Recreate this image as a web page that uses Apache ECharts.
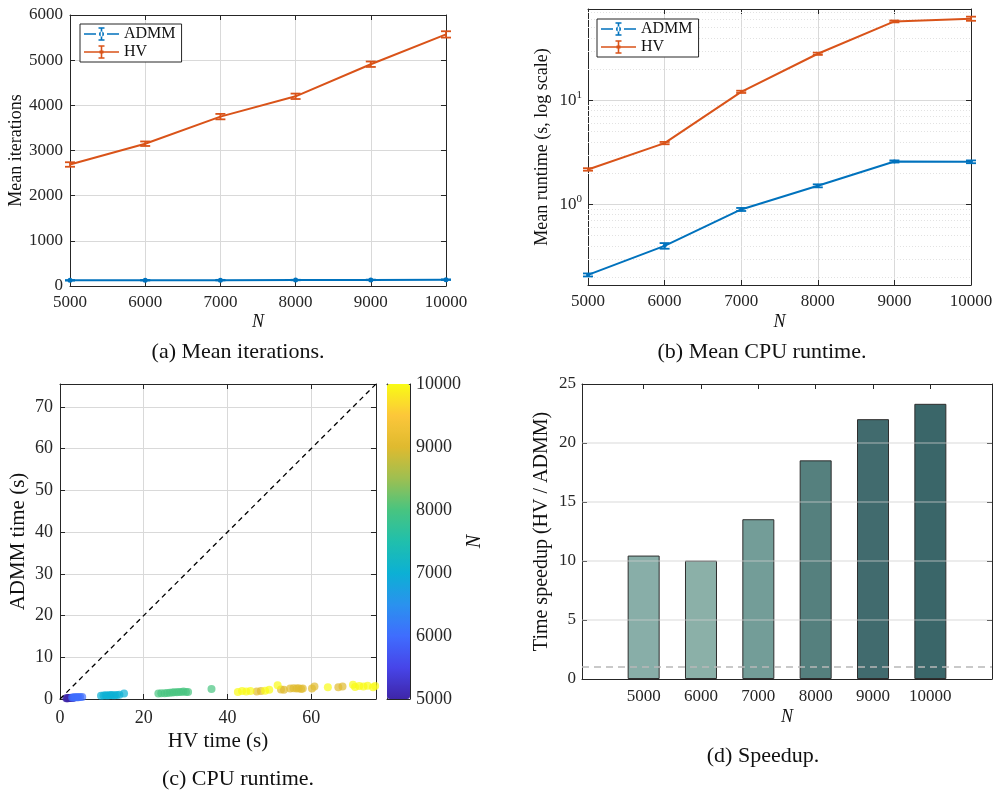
<!DOCTYPE html>
<html><head><meta charset="utf-8">
<script src="https://cdn.jsdelivr.net/npm/echarts@6/dist/echarts.min.js"></script>
<style>html,body{margin:0;padding:0;background:#fff}#c{width:998px;height:798px}</style>
</head><body><div id="c"></div>
<script>
// ---------------- DATA ----------------
const N_VALUES = [5000, 6000, 7000, 8000, 9000, 10000];
const N_LABELS = ['5000', '6000', '7000', '8000', '9000', '10000'];

const ITER_ADMM = [125, 128, 130, 132, 135, 140];
const ITER_ADMM_ERR = [6, 6, 6, 6, 6, 7];
const ITER_HV = [2690, 3150, 3750, 4200, 4910, 5570];
const ITER_HV_ERR = [50, 50, 60, 60, 60, 70];

const TIME_ADMM = [0.21, 0.40, 0.895, 1.51, 2.59, 2.57];
const TIME_ADMM_ERR = [0.007, 0.025, 0.03, 0.05, 0.06, 0.08];
const TIME_HV = [2.17, 3.89, 12.1, 28.1, 57.5, 61.1];
const TIME_HV_ERR = [0.06, 0.1, 0.3, 0.7, 1.2, 2.8];

const SPEEDUP = [10.46, 10.03, 13.54, 18.53, 22.02, 23.32];

const HV_RUNS_5000 = [1.5, 1.7, 1.9, 2.1, 2.3, 2.5, 2.8, 3.1];
const ADMM_RUNS_5000 = [0.17, 0.19, 0.2, 0.21, 0.22, 0.21, 0.23, 0.24];
const HV_RUNS_6000 = [2.9, 3.2, 3.5, 3.8, 4.1, 4.4, 4.8, 5.3];
const ADMM_RUNS_6000 = [0.34, 0.37, 0.39, 0.4, 0.42, 0.41, 0.45, 0.5];
const HV_RUNS_7000 = [9.8, 10.4, 10.9, 11.3, 11.8, 12.2, 12.6, 13.1, 13.6, 14.2, 15.3];
const ADMM_RUNS_7000 = [0.8, 0.85, 0.9, 0.85, 0.9, 0.95, 0.9, 0.9, 0.95, 1.0, 1.3];
const HV_RUNS_8000 = [23.5, 24.2, 25.0, 25.6, 26.2, 26.8, 27.3, 27.9, 28.4, 29.0, 29.5, 30.1, 30.6, 36.2];
const ADMM_RUNS_8000 = [1.3, 1.35, 1.4, 1.45, 1.5, 1.55, 1.6, 1.6, 1.7, 1.7, 1.8, 1.7, 1.7, 2.4];
const HV_RUNS_9000 = [47.0, 48.0, 52.8, 53.5, 55.0, 55.8, 56.5, 57.0, 57.6, 58.0, 60.2, 60.8, 66.5, 67.5];
const ADMM_RUNS_9000 = [1.8, 1.9, 2.3, 2.2, 2.5, 2.6, 2.5, 2.6, 2.4, 2.5, 2.5, 3.0, 2.8, 3.0];
const HV_RUNS_10000 = [42.5, 43.5, 44.5, 45.5, 49.0, 50.0, 52.0, 64.0, 70.0, 70.5, 71.5, 72.5, 73.5, 74.8, 75.3];
const ADMM_RUNS_10000 = [1.7, 1.9, 1.8, 1.9, 2.0, 2.2, 3.3, 2.8, 3.4, 2.9, 3.1, 3.0, 3.2, 2.8, 3.1];

const ITER_TICKS = [0, 1000, 2000, 3000, 4000, 5000, 6000];
const TIME_MINOR = [0.2, 0.3, 0.4, 0.5, 0.6, 0.7, 0.8, 0.9, 2, 3, 4, 5, 6, 7, 8, 9, 20, 30, 40, 50, 60, 70];
const TIME_LIMITS = [0.168, 75.7];
const SCATTER_LIMIT = 75.5;
const SPEEDUP_MAX = 25;
const SPEEDUP_REF = 1;
const SPEEDUP_GRID = [5, 10, 15, 20];

// ---------------- STYLE ----------------
const SERIF = '"Liberation Serif", "Times New Roman", serif';
const AXC = '#262626';
const GRIDC = '#d9d9d9';
const BLUE = '#0072BD';
const ORANGE = '#D95319';
const BAR_COLORS = ['#88aea8', '#8bb0a8', '#739d98', '#55807e', '#416b6e', '#3a6669'];
const PARULA = ['#3e26a8', '#4745e9', '#3f6dfe', '#2a92ee', '#0cb0d4', '#20bfac', '#48c480', '#9ebf51', '#dfba2f', '#fcc73a', '#f9fb15'];
const plain = v => String(v);

function merge(a, b) {
  const o = Object.assign({}, a);
  for (const k in b) {
    const v = b[k];
    if (v && typeof v === 'object' && !Array.isArray(v) && a[k] && typeof a[k] === 'object' && !Array.isArray(a[k])) o[k] = merge(a[k], v);
    else o[k] = v;
  }
  return o;
}
function ax(extra) {
  return merge({
    type: 'value',
    axisLine: { show: true, onZero: false, lineStyle: { color: AXC, width: 1 } },
    axisTick: { show: true, inside: true, length: 5, lineStyle: { color: AXC, width: 1 } },
    axisLabel: { show: false, color: AXC, fontFamily: SERIF, fontSize: 17, formatter: plain },
    splitLine: { show: false, lineStyle: { color: GRIDC, width: 1 } },
    nameTextStyle: { fontFamily: SERIF, color: '#111' },
    silent: true
  }, extra);
}

function errRender(cap, color) {
  return function (params, api) {
    const x = api.value(0), lo = api.value(1), hi = api.value(2);
    const p1 = api.coord([x, lo]), p2 = api.coord([x, hi]);
    const st = { stroke: color, lineWidth: 1.8 };
    return { type: 'group', children: [
      { type: 'line', shape: { x1: p1[0], y1: p1[1], x2: p2[0], y2: p2[1] }, style: st },
      { type: 'line', shape: { x1: p1[0] - cap, y1: p1[1], x2: p1[0] + cap, y2: p1[1] }, style: st },
      { type: 'line', shape: { x1: p2[0] - cap, y1: p2[1], x2: p2[0] + cap, y2: p2[1] }, style: st }
    ] };
  };
}
function errData(vals, errs) { return N_VALUES.map((n, i) => [n, vals[i] - errs[i], vals[i] + errs[i]]); }
function lineData(vals) { return N_VALUES.map((n, i) => [n, vals[i]]); }

const logFmt = function (v) {
  const l = Math.log10(v), e = Math.round(l);
  if (Math.abs(l - e) > 1e-6) return '';
  return '{b|10}{s|' + e + '}';
};

const ICON_ADMM = 'path://M0,6.2h12v1.6H0z M23,6.2h12v1.6H23z M16.7,1h1.6v12h-1.6z M14.5,0.2h6v1.6h-6z M14.5,12.2h6v1.6h-6z M15,7a2.5,2.5 0 1,0 5,0a2.5,2.5 0 1,0 -5,0z';
const ICON_HV = 'path://M0,6.2h35v1.6H0z M16.7,1h1.6v12h-1.6z M14.5,0.2h6v1.6h-6z M14.5,12.2h6v1.6h-6z M15.5,5.5h4v3h-4z';

const legendBase = {
  orient: 'vertical', itemWidth: 35, itemHeight: 14, itemGap: 2,
  padding: [2, 6, 2, 4], borderColor: AXC, borderWidth: 1, backgroundColor: '#fff',
  textStyle: { fontFamily: SERIF, fontSize: 16, color: '#111' },
  data: [{ name: 'ADMM', icon: ICON_ADMM }, { name: 'HV', icon: ICON_HV }],
  selectedMode: false
};

const scatterSets = [
  [5000, HV_RUNS_5000, ADMM_RUNS_5000],
  [6000, HV_RUNS_6000, ADMM_RUNS_6000],
  [7000, HV_RUNS_7000, ADMM_RUNS_7000],
  [8000, HV_RUNS_8000, ADMM_RUNS_8000],
  [9000, HV_RUNS_9000, ADMM_RUNS_9000],
  [10000, HV_RUNS_10000, ADMM_RUNS_10000]
];
const scatterSeries = scatterSets.map(([n, hv, ad]) => ({
  type: 'scatter', name: 'N=' + n, xAxisIndex: 4, yAxisIndex: 4,
  symbolSize: 8, itemStyle: { opacity: 0.7 }, clip: false,
  data: hv.map((h, i) => [h, ad[i], n])
}));

const option = {
  animation: false,
  backgroundColor: '#fff',
  grid: [
    { left: 70, top: 15, width: 376, height: 271 },
    { left: 588, top: 9, width: 383, height: 276 },
    { left: 60, top: 384, width: 316, height: 315 },
    { left: 387, top: 384, width: 23, height: 315 },
    { left: 582, top: 384, width: 410, height: 295 }
  ],
  legend: [
    merge(legendBase, { left: 80, top: 24 }),
    merge(legendBase, { left: 597, top: 19 })
  ],
  xAxis: [
    ax({ gridIndex: 0, min: N_VALUES[0], max: N_VALUES[5], interval: 1000, axisLabel: { show: true, margin: 8 },
      splitLine: { show: true }, name: 'N', nameLocation: 'middle', nameGap: 27, nameTextStyle: { fontStyle: 'italic', fontSize: 18 } }),
    ax({ gridIndex: 0, position: 'top', min: N_VALUES[0], max: N_VALUES[5], interval: 1000 }),
    ax({ gridIndex: 1, min: N_VALUES[0], max: N_VALUES[5], interval: 1000, axisLabel: { show: true, margin: 8 },
      splitLine: { show: true }, name: 'N', nameLocation: 'middle', nameGap: 28, nameTextStyle: { fontStyle: 'italic', fontSize: 18 } }),
    ax({ gridIndex: 1, position: 'top', min: N_VALUES[0], max: N_VALUES[5], interval: 1000 }),
    ax({ gridIndex: 2, min: 0, max: SCATTER_LIMIT, interval: 20, axisLabel: { show: true, margin: 10, fontSize: 18, showMaxLabel: false },
      splitLine: { show: true }, name: 'HV time (s)', nameLocation: 'middle', nameGap: 32, nameTextStyle: { fontSize: 21 } }),
    ax({ gridIndex: 2, position: 'top', min: 0, max: SCATTER_LIMIT, interval: 20 }),
    ax({ gridIndex: 3, min: 0, max: 1, axisTick: { show: false } }),
    ax({ gridIndex: 3, position: 'top', min: 0, max: 1, axisTick: { show: false } }),
    ax({ gridIndex: 4, min: -0.075, max: N_VALUES.length + 1.075,
      axisTick: { customValues: N_VALUES.map((n, i) => i + 1) },
      axisLabel: { show: true, margin: 9, fontSize: 17, customValues: N_VALUES.map((n, i) => i + 1),
        formatter: v => N_LABELS[Math.round(v) - 1] || '' },
      name: 'N', nameLocation: 'middle', nameGap: 29, nameTextStyle: { fontStyle: 'italic', fontSize: 18 } }),
    ax({ gridIndex: 4, position: 'top', min: -0.075, max: N_VALUES.length + 1.075,
      axisTick: { customValues: N_VALUES.map((n, i) => i + 1) } })
  ],
  yAxis: [
    ax({ gridIndex: 0, min: ITER_TICKS[0], max: ITER_TICKS[ITER_TICKS.length - 1], interval: 1000,
      axisLabel: { show: true, margin: 7 }, splitLine: { show: true },
      name: 'Mean iterations', nameLocation: 'middle', nameGap: 44, nameTextStyle: { fontSize: 18 } }),
    ax({ gridIndex: 0, position: 'right', min: 0, max: 6000, interval: 1000 }),
    ax({ gridIndex: 1, type: 'log', logBase: 10, min: TIME_LIMITS[0], max: TIME_LIMITS[1],
      axisLabel: { show: true, margin: 6, formatter: logFmt,
        rich: { b: { fontFamily: SERIF, fontSize: 17, color: AXC }, s: { fontFamily: SERIF, fontSize: 11, color: AXC, verticalAlign: 'top', lineHeight: 22 } } },
      splitLine: { show: true },
      name: 'Mean runtime (s, log scale)', nameLocation: 'middle', nameGap: 37, nameTextStyle: { fontSize: 18 } }),
    ax({ gridIndex: 1, type: 'log', logBase: 10, position: 'right', min: TIME_LIMITS[0], max: TIME_LIMITS[1] }),
    ax({ gridIndex: 2, min: 0, max: SCATTER_LIMIT, interval: 10, axisLabel: { show: true, margin: 7, fontSize: 18, showMaxLabel: false },
      splitLine: { show: true }, name: 'ADMM time (s)', nameLocation: 'middle', nameGap: 31, nameTextStyle: { fontSize: 21 } }),
    ax({ gridIndex: 2, position: 'right', min: 0, max: SCATTER_LIMIT, interval: 10 }),
    ax({ gridIndex: 3, min: 0, max: 1, axisTick: { show: false } }),
    ax({ gridIndex: 3, position: 'right', min: N_VALUES[0], max: N_VALUES[5], interval: 1000,
      axisTick: { length: 4 }, axisLabel: { show: true, margin: 6, fontSize: 18 },
      name: 'N', nameLocation: 'middle', nameGap: 40, nameTextStyle: { fontStyle: 'italic', fontSize: 20 } }),
    ax({ gridIndex: 4, min: 0, max: SPEEDUP_MAX, interval: 5, axisLabel: { show: true, margin: 6, fontSize: 17 },
      name: 'Time speedup (HV / ADMM)', nameLocation: 'middle', nameGap: 30, nameTextStyle: { fontSize: 20 } }),
    ax({ gridIndex: 4, position: 'right', min: 0, max: SPEEDUP_MAX, interval: 5 })
  ],
  visualMap: {
    type: 'continuous', min: N_VALUES[0], max: N_VALUES[5], dimension: 2,
    seriesIndex: [8, 9, 10, 11, 12, 13], calculable: false, realtime: false,
    left: 387, top: 384, itemWidth: 23, itemHeight: 315, padding: 0,
    inRange: { color: PARULA }, textStyle: { color: 'transparent' }, hoverLink: false
  },
  series: [
    { type: 'line', name: 'ADMM', xAxisIndex: 0, yAxisIndex: 0, data: lineData(ITER_ADMM),
      color: BLUE, lineStyle: { width: 2 }, symbol: 'circle', symbolSize: 5, z: 3 },
    { type: 'custom', name: 'ADMM err', xAxisIndex: 0, yAxisIndex: 0, data: errData(ITER_ADMM, ITER_ADMM_ERR),
      renderItem: errRender(5, BLUE), z: 4 },
    { type: 'line', name: 'HV', xAxisIndex: 0, yAxisIndex: 0, data: lineData(ITER_HV),
      color: ORANGE, lineStyle: { width: 2 }, symbol: 'none', z: 3 },
    { type: 'custom', name: 'HV err', xAxisIndex: 0, yAxisIndex: 0, data: errData(ITER_HV, ITER_HV_ERR),
      renderItem: errRender(5, ORANGE), z: 4 },

    { type: 'line', name: 'ADMM', xAxisIndex: 2, yAxisIndex: 2, data: lineData(TIME_ADMM),
      color: BLUE, lineStyle: { width: 2 }, symbol: 'circle', symbolSize: 4, z: 3 },
    { type: 'custom', name: 'ADMM err2', xAxisIndex: 2, yAxisIndex: 2, data: errData(TIME_ADMM, TIME_ADMM_ERR),
      renderItem: errRender(5, BLUE), z: 4 },
    { type: 'line', name: 'HV', xAxisIndex: 2, yAxisIndex: 2, data: lineData(TIME_HV),
      color: ORANGE, lineStyle: { width: 2 }, symbol: 'none', z: 3,
      markLine: { silent: true, symbol: 'none', label: { show: false }, z: 1,
        lineStyle: { color: '#e2e2e2', type: [1, 2], width: 1 },
        data: TIME_MINOR.map(v => ({ yAxis: v })) } },
    { type: 'custom', name: 'HV err2', xAxisIndex: 2, yAxisIndex: 2, data: errData(TIME_HV, TIME_HV_ERR),
      renderItem: errRender(5, ORANGE), z: 4 },

    ...scatterSeries,
    { type: 'line', name: 'diag', xAxisIndex: 4, yAxisIndex: 4, data: [[0, 0], [SCATTER_LIMIT, SCATTER_LIMIT]],
      symbol: 'none', lineStyle: { color: '#000', width: 1.3, type: [5, 4] }, silent: true, z: 5 },

    { type: 'bar', name: 'speedup', xAxisIndex: 8, yAxisIndex: 8, barWidth: 32,
      data: SPEEDUP.map((v, i) => ({ value: [i + 1, v], itemStyle: { color: BAR_COLORS[i] } })),
      itemStyle: { borderColor: '#2e2e2e', borderWidth: 1 },
      markLine: { silent: true, symbol: 'none', label: { show: false }, z: 6,
        data: SPEEDUP_GRID.map(v => ({ yAxis: v, lineStyle: { color: 'rgba(205,205,205,0.38)', width: 2, type: 'solid' } }))
          .concat([{ yAxis: SPEEDUP_REF, lineStyle: { color: '#b8b8b8', width: 1.6, type: [7, 5] } }]) } }
  ],
  graphic: [
    { type: 'text', x: 238, y: 352, style: { text: '(a) Mean iterations.', align: 'center', verticalAlign: 'middle', fontFamily: SERIF, fontSize: 22, fill: '#111' } },
    { type: 'text', x: 762, y: 352, style: { text: '(b) Mean CPU runtime.', align: 'center', verticalAlign: 'middle', fontFamily: SERIF, fontSize: 22, fill: '#111' } },
    { type: 'text', x: 238, y: 779, style: { text: '(c) CPU runtime.', align: 'center', verticalAlign: 'middle', fontFamily: SERIF, fontSize: 22, fill: '#111' } },
    { type: 'text', x: 763, y: 756, style: { text: '(d) Speedup.', align: 'center', verticalAlign: 'middle', fontFamily: SERIF, fontSize: 22, fill: '#111' } }
  ]
};

const chart = echarts.init(document.getElementById('c'), null, { renderer: 'canvas' });
chart.setOption(option);
</script>
</body></html>
